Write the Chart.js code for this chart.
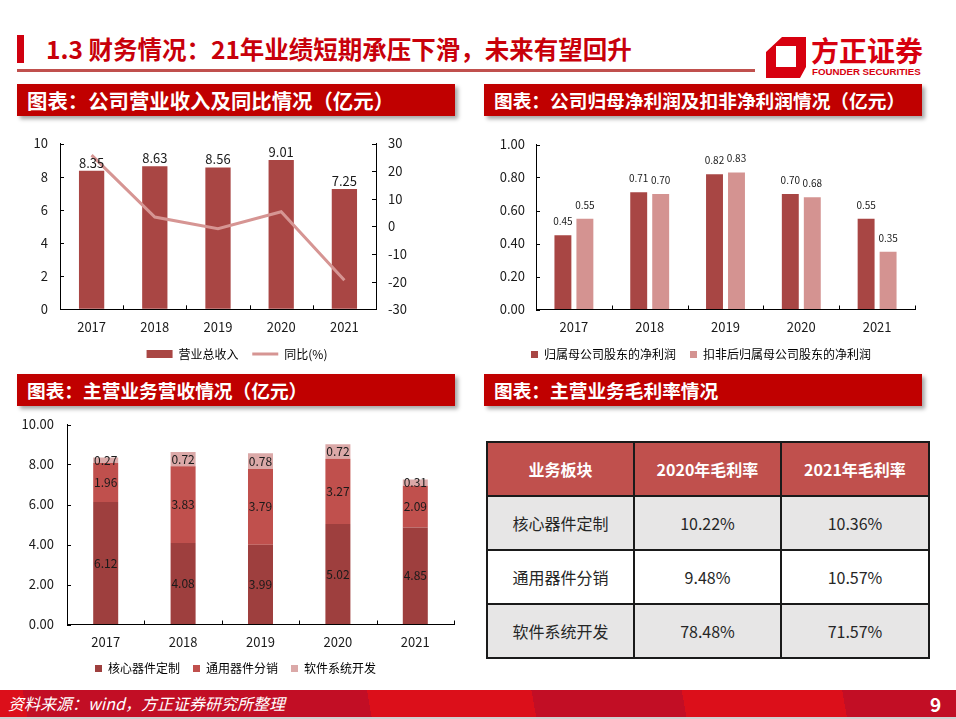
<!DOCTYPE html>
<html><head><meta charset="utf-8">
<script src="https://cdn.jsdelivr.net/npm/chart.js@4.4.1/dist/chart.umd.min.js"></script>
<style>
html,body{margin:0;padding:0;background:#fff;}
body{width:956px;height:719px;position:relative;overflow:hidden;font-family:"Noto Sans CJK SC",sans-serif;}
.abs{position:absolute;}
.hdr{position:absolute;height:32px;background:#c00000;color:#fff;font-weight:bold;font-size:18.7px;line-height:32px;padding-left:10px;box-sizing:border-box;box-shadow:3px 3px 4px rgba(0,0,0,0.35);white-space:nowrap;}
.cbox{position:absolute;}
table.gm{position:absolute;left:486px;top:441px;border-collapse:collapse;font-size:16px;}
table.gm td, table.gm th{border:2px solid #1a1a1a;height:52px;text-align:center;padding:0;color:#262626;font-weight:normal;}
table.gm th{background:#c0504d;color:#fff;font-weight:bold;}
</style>
</head><body>
<div class="abs" style="left:17px;top:35px;width:7px;height:28px;background:#d0000f;"></div>
<div class="abs" style="left:46px;top:30px;font-size:24.5px;font-weight:bold;color:#c8000a;line-height:38px;white-space:nowrap;">1.3 财务情况：21年业绩短期承压下滑，未来有望回升</div>
<div class="abs" style="left:17px;top:69px;width:738px;height:3px;background:#c0504d;"></div>
<svg class="abs" style="left:766px;top:37px;" width="42" height="42" viewBox="0 0 42 42">
<path fill="#d7000f" fill-rule="evenodd" d="M16,0 H40 V30 L34,41 H0 V15 Z M10,9 H30 V30 H10 Z"/>
</svg>
<div class="abs" style="left:811px;top:33px;font-size:28px;font-weight:bold;color:#d7000f;line-height:34px;white-space:nowrap;">方正证券</div>
<div class="abs" style="left:812px;top:66px;font-family:'Liberation Sans',sans-serif;font-size:9.7px;font-weight:bold;color:#d7000f;line-height:12px;white-space:nowrap;">FOUNDER SECURITIES</div>

<div class="hdr" style="left:17px;top:84px;width:438px;font-size:20.4px;">图表：公司营业收入及同比情况（亿元）</div>
<div class="hdr" style="left:484px;top:84px;width:438px;">图表：公司归母净利润及扣非净利润情况（亿元）</div>
<div class="hdr" style="left:17px;top:374px;width:438px;">图表：主营业务营收情况（亿元）</div>
<div class="hdr" style="left:484px;top:374px;width:438px;">图表：主营业务毛利率情况</div>

<div class="cbox" style="left:17px;top:125px;width:440px;height:245px;"><canvas id="c1"></canvas></div>
<div class="cbox" style="left:487px;top:126.5px;width:440px;height:243.5px;"><canvas id="c2"></canvas></div>
<div class="cbox" style="left:17px;top:404.5px;width:440px;height:282.5px;"><canvas id="c3"></canvas></div>

<table class="gm" id="gm"></table>

<div class="abs" style="left:0;top:690px;width:956px;height:27px;background:linear-gradient(80deg,#dc0f1a 0px,#dc0f1a 27px,#c20e25 27px,#c20e25 366px,#dc0f1a 366px,#dc0f1a 528px,#c20e25 528px,#c20e25 676px,#dc0f1a 676px,#dc0f1a 834px,#c20e25 834px);"></div>
<div class="abs" style="left:8px;top:690px;height:27px;line-height:27px;font-size:16px;font-style:italic;color:#fff;white-space:nowrap;">资料来源：wind，方正证券研究所整理</div>
<div class="abs" style="left:930px;top:690px;height:27px;line-height:27px;font-size:19px;font-weight:bold;color:#fff;">9</div>
<div class="abs" style="left:0;top:717px;width:956px;height:2px;background:#d0d0d0;"></div>

<script>
// ---------- data ----------
const years = ['2017','2018','2019','2020','2021'];
const revenue = [8.35, 8.63, 8.56, 9.01, 7.25];
const revenueYoY = [25.8, 3.4, -0.8, 5.3, -19.5];
const netProfit = [0.45, 0.71, 0.82, 0.70, 0.55];
const netProfitDeducted = [0.55, 0.70, 0.83, 0.68, 0.35];
const coreDevice = [6.12, 4.08, 3.99, 5.02, 4.85];
const generalDevice = [1.96, 3.83, 3.79, 3.27, 2.09];
const softwareDev = [0.27, 0.72, 0.78, 0.72, 0.31];
const marginHeaders = ['业务板块', '2020年毛利率', '2021年毛利率'];
const marginSegments = ['核心器件定制', '通用器件分销', '软件系统开发'];
const margin2020 = ['10.22%', '9.48%', '78.48%'];
const margin2021 = ['10.36%', '10.57%', '71.57%'];

// ---------- table ----------
(function(){
  const t = document.getElementById('gm');
  const widths = [145,145,146];
  let html = '<tr>' + marginHeaders.map((h,i)=>'<th style="width:'+widths[i]+'px">'+h+'</th>').join('') + '</tr>';
  marginSegments.forEach((s,i)=>{
    const bg = i % 2 === 0 ? '#e7e6e6' : '#ffffff';
    html += '<tr style="background:'+bg+'"><td>'+s+'</td><td>'+margin2020[i]+'</td><td>'+margin2021[i]+'</td></tr>';
  });
  t.innerHTML = html;
})();

// ---------- chart setup ----------
Chart.defaults.font.family = '"Noto Sans CJK SC", sans-serif';
Chart.defaults.color = '#1a1a1a';
Chart.defaults.animation = false;

const inwardTicks = {
  id: 'inwardTicks',
  afterDraw(chart) {
    const ctx = chart.ctx; ctx.save();
    ctx.strokeStyle = '#000'; ctx.lineWidth = 1;
    Object.values(chart.scales).forEach(s => {
      const len = 4;
      ctx.beginPath();
      if (s.axis === 'x') {
        const n = s.ticks.length;
        for (let i = 0; i <= n; i++) {
          const x = Math.round(s.getPixelForValue(i - 0.5)) + 0.5;
          ctx.moveTo(x, s.top); ctx.lineTo(x, s.top - len);
        }
      } else {
        const left = s.position === 'left';
        const x0 = left ? s.right : s.left;
        s.ticks.forEach((t, i) => {
          const y = Math.round(s.getPixelForTick(i)) + 0.5;
          ctx.moveTo(x0, y); ctx.lineTo(x0 + (left ? len : -len), y);
        });
      }
      ctx.stroke();
    });
    ctx.restore();
  }
};

const valueLabels = {
  id: 'valueLabels',
  afterDatasetsDraw(chart, args, opts) {
    if (!opts || !opts.sets) return;
    const ctx = chart.ctx; ctx.save();
    ctx.font = opts.size + 'px "Noto Sans CJK SC", sans-serif';
    ctx.fillStyle = '#1a1a1a'; ctx.textAlign = 'center'; ctx.textBaseline = 'middle';
    chart.data.datasets.forEach((ds, di) => {
      if (opts.sets.indexOf(di) < 0) return;
      const meta = chart.getDatasetMeta(di);
      meta.data.forEach((el, i) => {
        const v = ds.data[i];
        const y = opts.center ? (el.y + el.base) / 2 : el.y - opts.offset;
        ctx.fillText(v.toFixed(opts.decimals), el.x, y);
      });
    });
    ctx.restore();
  }
};

function fixW(w) { return function(s){ s.width = w; }; }
function fixH(h) { return function(s){ s.height = h; }; }
const axisBorder = { display: true, color: '#000', width: 1 };
const noGrid = { display: true, drawOnChartArea: false, drawTicks: false, color: 'rgba(0,0,0,0)' };
const tickFont = { size: 13, lineHeight: 1 };

function boxLegendLabels(chart) {
  return chart.data.datasets.map((ds, i) => ({
    text: ds.label, fillStyle: ds.backgroundColor, strokeStyle: ds.backgroundColor,
    lineWidth: 0, hidden: false, datasetIndex: i
  }));
}

// Chart 1: revenue + yoy
new Chart(document.getElementById('c1'), {
  data: {
    labels: years,
    datasets: [
      { type: 'bar', label: '营业总收入', data: revenue, backgroundColor: '#a94644', yAxisID: 'y',
        categoryPercentage: 1, barPercentage: 0.4, order: 1 },
      { type: 'line', label: '同比(%)', data: revenueYoY, borderColor: '#d69593', backgroundColor: '#d69593',
        borderWidth: 3, pointRadius: 0, tension: 0, yAxisID: 'y1', order: 0 }
    ]
  },
  options: {
    responsive: true, maintainAspectRatio: false,
    layout: { padding: { top: 0, left: 0, right: 0, bottom: 0 } },
    scales: {
      x: { grid: noGrid, border: axisBorder, ticks: { padding: 11, font: tickFont }, afterFit: fixH(25) },
      y: { position: 'left', min: 0, max: 10, grid: noGrid, border: axisBorder,
        ticks: { stepSize: 2, padding: 12, font: tickFont }, afterFit: fixW(43) },
      y1: { position: 'right', min: -30, max: 30, grid: noGrid, border: axisBorder,
        ticks: { stepSize: 10, padding: 12, font: tickFont }, afterFit: fixW(81) }
    },
    plugins: {
      tooltip: { enabled: false },
      legend: { position: 'bottom', labels: {
        usePointStyle: true, pointStyleWidth: 26, boxHeight: 8, padding: 13.7, font: { size: 12 }, color: '#1a1a1a',
        generateLabels: chart => chart.data.datasets.map((ds, i) => ({
          text: ds.label, fillStyle: ds.backgroundColor, strokeStyle: ds.borderColor || ds.backgroundColor,
          lineWidth: ds.type === 'line' ? 3 : 0, pointStyle: ds.type === 'line' ? 'line' : 'rect',
          hidden: false, datasetIndex: i
        }))
      } },
      valueLabels: { sets: [0], size: 13, offset: 8, decimals: 2, center: false }
    }
  },
  plugins: [inwardTicks, valueLabels]
});

// Chart 2: net profit
new Chart(document.getElementById('c2'), {
  type: 'bar',
  data: {
    labels: years,
    datasets: [
      { label: '归属母公司股东的净利润', data: netProfit, backgroundColor: '#a84644', categoryPercentage: 0.58, barPercentage: 0.77 },
      { label: '扣非后归属母公司股东的净利润', data: netProfitDeducted, backgroundColor: '#d49391', categoryPercentage: 0.58, barPercentage: 0.77 }
    ]
  },
  options: {
    responsive: true, maintainAspectRatio: false,
    layout: { padding: { top: 0, left: 0, right: 12, bottom: 0 } },
    scales: {
      x: { grid: noGrid, border: axisBorder, ticks: { padding: 11.5, font: tickFont }, afterFit: fixH(25) },
      y: { min: 0, max: 1, grid: noGrid, border: axisBorder,
        ticks: { stepSize: 0.2, padding: 11, font: tickFont, callback: v => Number(v).toFixed(2) }, afterFit: fixW(49) }
    },
    plugins: {
      tooltip: { enabled: false },
      legend: { position: 'bottom', labels: { boxWidth: 7, boxHeight: 7, padding: 14, font: { size: 12 }, color: '#1a1a1a', generateLabels: boxLegendLabels } },
      valueLabels: { sets: [0, 1], size: 10, offset: 14, decimals: 2, center: false }
    }
  },
  plugins: [inwardTicks, valueLabels]
});

// Chart 3: stacked segment revenue
new Chart(document.getElementById('c3'), {
  type: 'bar',
  data: {
    labels: years,
    datasets: [
      { label: '核心器件定制', data: coreDevice, backgroundColor: '#9e3f3e', categoryPercentage: 1, barPercentage: 0.323 },
      { label: '通用器件分销', data: generalDevice, backgroundColor: '#c0504d', categoryPercentage: 1, barPercentage: 0.323 },
      { label: '软件系统开发', data: softwareDev, backgroundColor: '#dba9a8', categoryPercentage: 1, barPercentage: 0.323 }
    ]
  },
  options: {
    responsive: true, maintainAspectRatio: false,
    layout: { padding: { top: 0, left: 0, right: 3, bottom: 3 } },
    scales: {
      x: { stacked: true, grid: noGrid, border: axisBorder, ticks: { padding: 11, font: tickFont }, afterFit: fixH(25) },
      y: { stacked: true, min: 0, max: 10, grid: noGrid, border: axisBorder,
        ticks: { stepSize: 2, padding: 13, font: tickFont, callback: v => Number(v).toFixed(2) }, afterFit: fixW(50) }
    },
    plugins: {
      tooltip: { enabled: false },
      legend: { position: 'bottom', labels: { boxWidth: 7, boxHeight: 7, padding: 13, font: { size: 12 }, color: '#1a1a1a', generateLabels: boxLegendLabels } },
      valueLabels: { sets: [0, 1, 2], size: 12, decimals: 2, center: true, offset: 0 }
    }
  },
  plugins: [inwardTicks, valueLabels]
});
</script>
</body></html>
